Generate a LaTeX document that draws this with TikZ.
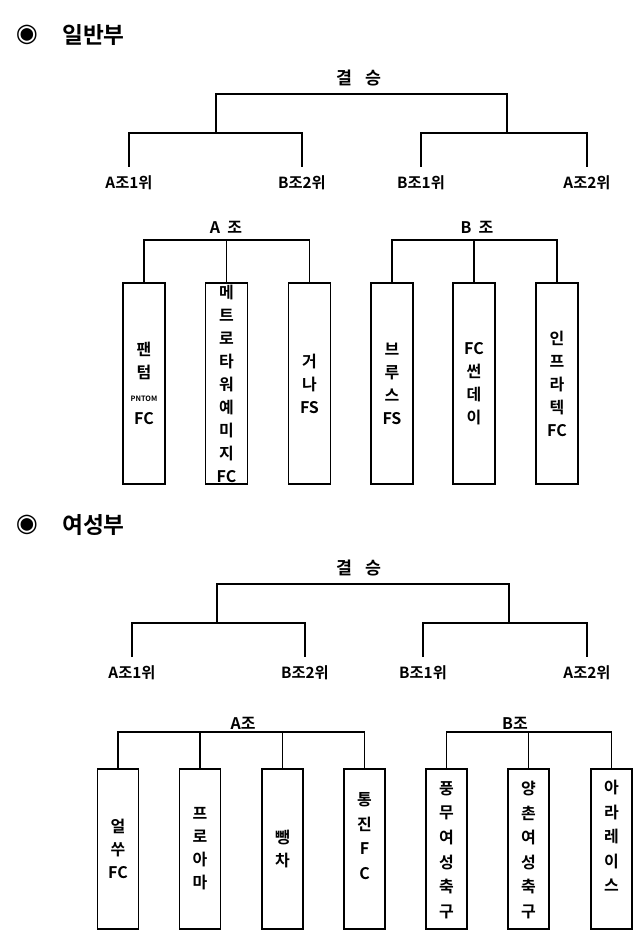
\documentclass[tikz,border=0pt]{standalone}
\usepackage{fontspec}
\setmainfont{Noto Sans CJK KR}[BoldFont={* Bold}]
\newfontfamily\symfont{DejaVu Sans}
\usetikzlibrary{positioning}

\tikzset{
  bar/.style={line width=1pt},
  bullet/.style={font=\symfont\fontsize{19}{19}\selectfont,inner sep=0pt},
  part/.style={font=\bfseries\fontsize{17}{17}\selectfont,anchor=west,inner sep=0pt},
  final/.style={font=\bfseries\fontsize{13}{13}\selectfont,inner sep=0pt},
  rank/.style={font=\bfseries\fontsize{11.5}{11.5}\selectfont,anchor=north,inner xsep=0pt,inner ysep=6pt},
  group/.style={font=\bfseries\fontsize{12}{12}\selectfont,inner sep=0pt},
  teambox/.style={draw,line width=1.1pt,inner sep=0pt,minimum width=31.5pt,minimum height=150.75pt},
  teambox2/.style={teambox,minimum width=30.75pt,minimum height=120pt},
  teamname/.style={font=\bfseries\fontsize{12}{17.25}\selectfont,align=center,inner sep=0pt},
  teamname2/.style={teamname,font=\bfseries\fontsize{12}{18.4}\selectfont}
}

\begin{document}
\begin{tikzpicture}[x=0.75pt,y=-0.75pt]
\useasboundingbox (0,0) rectangle (640,938);

% 일반부
\node[bullet] (bul1) at (27,35) {◉};
\node[part] (ilban) at (62,35) {일반부};
\node[final] (fin1) at (359,78) {결\hspace{0.7em}승};

\coordinate (top1) at (359,94);
\coordinate (k1) at (216,133);
\coordinate (k2) at (507,133);
\node[rank] (A1) at (129,167) {A조1위};
\node[rank] (B2) at (302,167) {B조2위};
\node[rank] (B1) at (421,167) {B조1위};
\node[rank] (A2) at (587,167) {A조2위};

\draw[bar] (k1) |- (top1) -| (k2);
\draw[bar] (A1.north) |- (k1) -| (B2.north);
\draw[bar] (B1.north) |- (k2) -| (A2.north);

\node[group] (grA) at (226,227) {A\hspace{0.45em}조};
\node[group] (grB) at (477,227) {B\hspace{0.45em}조};
\coordinate (gA) at (228,240);
\coordinate (gB) at (474,240);

\node[teambox] (pantom) at (144,383.5) {};
\node[teambox] (metro) at (226.5,383.5) {};
\node[teambox] (gana) at (309.5,383.5) {};
\node[teambox] (bruce) at (392,383.5) {};
\node[teambox] (sunday) at (474,383.5) {};
\node[teambox] (infra) at (557,383.5) {};

\node[teamname] at (pantom) {팬\\텀\\{\fontsize{5.5}{6}\selectfont PNTOM}\\FC};
\node[teamname] at (metro) {메\\트\\로\\타\\워\\예\\미\\지\\FC};
\node[teamname] at (gana) {거\\나\\FS};
\node[teamname] at (bruce) {브\\루\\스\\FS};
\node[teamname] at (sunday) {FC\\썬\\데\\이};
\node[teamname] at (infra) {인\\프\\라\\텍\\FC};

\draw[bar] (pantom.north) |- (gA) -| (gana.north);
\draw[bar] (metro.north) -- (metro.north |- gA);
\draw[bar] (bruce.north) |- (gB) -| (infra.north);
\draw[bar] (sunday.north) -- (sunday.north |- gB);

% 여성부
\node[bullet] (bul2) at (27,525) {◉};
\node[part] (yeoseong) at (62,525) {여성부};
\node[final] (fin2) at (359,568) {결\hspace{0.7em}승};

\coordinate (top2) at (363,584);
\coordinate (m1) at (217,623);
\coordinate (m2) at (509,623);
\node[rank] (wA1) at (132,657) {A조1위};
\node[rank] (wB2) at (305,657) {B조2위};
\node[rank] (wB1) at (423,657) {B조1위};
\node[rank] (wA2) at (587,657) {A조2위};

\draw[bar] (m1) |- (top2) -| (m2);
\draw[bar] (wA1.north) |- (m1) -| (wB2.north);
\draw[bar] (wB1.north) |- (m2) -| (wA2.north);

\node[group] (wgrA) at (243,723) {A조};
\node[group] (wgrB) at (515,723) {B조};
\coordinate (hA) at (241,732);
\coordinate (hB) at (528,732);

\node[teambox2] (eolssu) at (118,849) {};
\node[teambox2] (proama) at (200,849) {};
\node[teambox2] (ppaeng) at (282.5,849) {};
\node[teambox2] (tongjin) at (364.5,849) {};
\node[teambox2] (pungmu) at (446.5,849) {};
\node[teambox2] (yangchon) at (528.5,849) {};
\node[teambox2] (arareis) at (611.5,849) {};

\node[teamname] at (eolssu) {얼\\쑤\\FC};
\node[teamname] at (proama) {프\\로\\아\\마};
\node[teamname] at (ppaeng) {뺑\\차};
\node[teamname2] at (364.5,836) {통\\진\\F\\C};
\node[teamname2] at (446.5,850) {풍\\무\\여\\성\\축\\구};
\node[teamname2] at (528.5,850) {양\\촌\\여\\성\\축\\구};
\node[teamname2] at (611.5,836) {아\\라\\레\\이\\스};

\draw[bar] (eolssu.north) |- (hA) -| (tongjin.north);
\draw[bar] (proama.north) -- (proama.north |- hA);
\draw[bar] (ppaeng.north) -- (ppaeng.north |- hA);
\draw[bar] (pungmu.north) |- (hB) -| (arareis.north);
\draw[bar] (yangchon.north) -- (yangchon.north |- hB);

\end{tikzpicture}
\end{document}
